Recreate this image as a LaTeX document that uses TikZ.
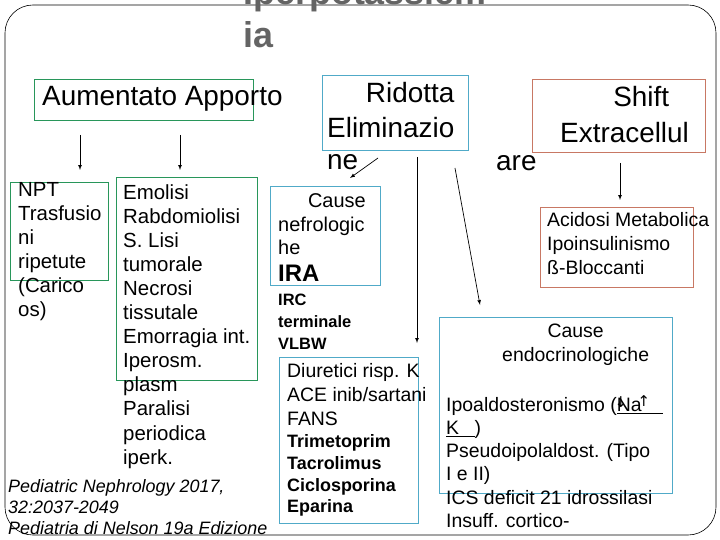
\documentclass[tikz,border=0pt]{standalone}
\usepackage{fontspec}
\setmainfont{Liberation Sans}
\newfontfamily\symfont{DejaVu Sans}
\usetikzlibrary{positioning}
\definecolor{gbord}{RGB}{40,150,90}
\definecolor{bbord}{RGB}{80,170,200}
\definecolor{rbord}{RGB}{200,120,100}
\definecolor{ttl}{RGB}{100,100,100}
\begin{document}
\begin{tikzpicture}[x=1bp,y=-1bp,
  box/.style={draw,line width=0.8pt,inner sep=0},
  txt/.style={anchor=north west,align=left,inner sep=0,font=\fontsize{20.5}{24.2}\selectfont},
  arr/.style={->,>=latex,line width=0.7pt}]
  \clip (0,0) rectangle (720,540);
  \useasboundingbox (0,0) rectangle (720,540);
  \draw[line width=0.6pt,rounded corners=28] (5,5) rectangle (716,535);
  % titolo
  \node[font=\bfseries\fontsize{36}{40}\selectfont,text=ttl,anchor=base] (t1) at (365,5) {Iperpotassiem};
  \node[font=\bfseries\fontsize{36}{40}\selectfont,text=ttl,anchor=base west] (t2) at (240,48) {ia};
  % riquadri
  \draw[box,gbord] (34,79) rectangle (253,120);
  \draw[box,bbord] (322,75) rectangle (468,150);
  \draw[box,rbord] (532,79) rectangle (705,152);
  \draw[box,gbord] (10,182) rectangle (108,280);
  \draw[box,gbord] (116,177) rectangle (257,380);
  \draw[box,bbord] (270,186) rectangle (380,285);
  \draw[box,bbord] (279,357) rectangle (418,523);
  \draw[box,rbord] (540,207) rectangle (693,287);
  \draw[box,bbord] (439,317) rectangle (672,493);
  % testi
  \node[txt,font=\fontsize{28}{34}\selectfont] (aum) at (42,86) {Aumentato Apporto};
  \node[txt,font=\fontsize{28}{35}\selectfont,align=right] (rid) at (327,82) {Ridotta\\Eliminazio};
  \node[txt,font=\fontsize{28}{34}\selectfont] (ne) at (327,154) {ne};
  \node[txt,font=\fontsize{28}{36}\selectfont,align=center] (shf) at (560,86) {\hspace{1.2em}Shift\\Extracellul};
  \node[txt,font=\fontsize{28}{34}\selectfont] (are) at (496,155) {are};
  \node[txt] (npt) at (18,182) {NPT\\Trasfusio\\ni\\ripetute\\(Carico\\os)};
  \node[txt] (emo) at (123,184) {Emolisi\\Rabdomiolisi\\S. Lisi\\tumorale\\Necrosi\\tissutale\\Emorragia int.\\Iperosm.\\plasm\\Paralisi\\periodica\\iperk.};
  \node[txt,font=\fontsize{20}{24}\selectfont] (nef) at (278,193) {\hspace{1.5em}Cause\\nefrologic\\he};
  \node[txt,font=\bfseries\fontsize{24}{24}\selectfont] (ira) at (278,265) {IRA};
  \node[txt,font=\bfseries\fontsize{16.5}{22}\selectfont] (irc) at (278,294) {IRC\\terminale\\VLBW};
  \node[txt,font=\fontsize{19.5}{24}\selectfont] (diu) at (287,363) {Diuretici risp. K\\ACE inib/sartani\\FANS};
  \node[txt,font=\bfseries\fontsize{18}{22}\selectfont] (tri) at (287,434) {Trimetoprim\\Tacrolimus\\Ciclosporina\\Eparina};
  \node[txt,font=\fontsize{19.5}{24}\selectfont] (aci) at (547,212) {Acidosi Metabolica\\Ipoinsulinismo\\ß-Bloccanti};
  \node[txt,font=\fontsize{19.5}{24}\selectfont,align=center] (end) at (502,324) {Cause\\endocrinologiche};
  \node[txt,font=\fontsize{19.5}{23.3}\selectfont] (ipo) at (446,397) {Ipoaldosteronismo (\underline{Na\hspace{1.1em}}\\\underline{K\hspace{0.8em}})\\Pseudoipolaldost. (Tipo\\I e II)\\ICS deficit 21 idrossilasi\\Insuff. cortico-};
  \node[font=\symfont\fontsize{15}{15}\selectfont,inner sep=0] (dn) at (621,402) {↓};
  \node[font=\symfont\fontsize{15}{15}\selectfont,inner sep=0] (up) at (644,401) {↑};
  \node[txt,font=\itshape\fontsize{18}{21}\selectfont] (ref) at (8,479) {Pediatric Nephrology 2017,\\32:2037-2049\\Pediatria di Nelson 19a Edizione};
  % frecce
  \coordinate (a1) at (80,135); \coordinate (a2) at (180,135);
  \coordinate (a3) at (378,158); \coordinate (a4) at (417,157);
  \coordinate (a5) at (455,168); \coordinate (a6) at (620,163);
  \draw[arr] (a1) -- (80,170);
  \draw[arr] (a2) -- (180,170);
  \draw[arr] (a3) -- (350,178);
  \draw[arr] (a4) -- (417,343);
  \draw[arr] (a5) -- (480,305);
  \draw[arr] (a6) -- (620,200);
\end{tikzpicture}
\end{document}
